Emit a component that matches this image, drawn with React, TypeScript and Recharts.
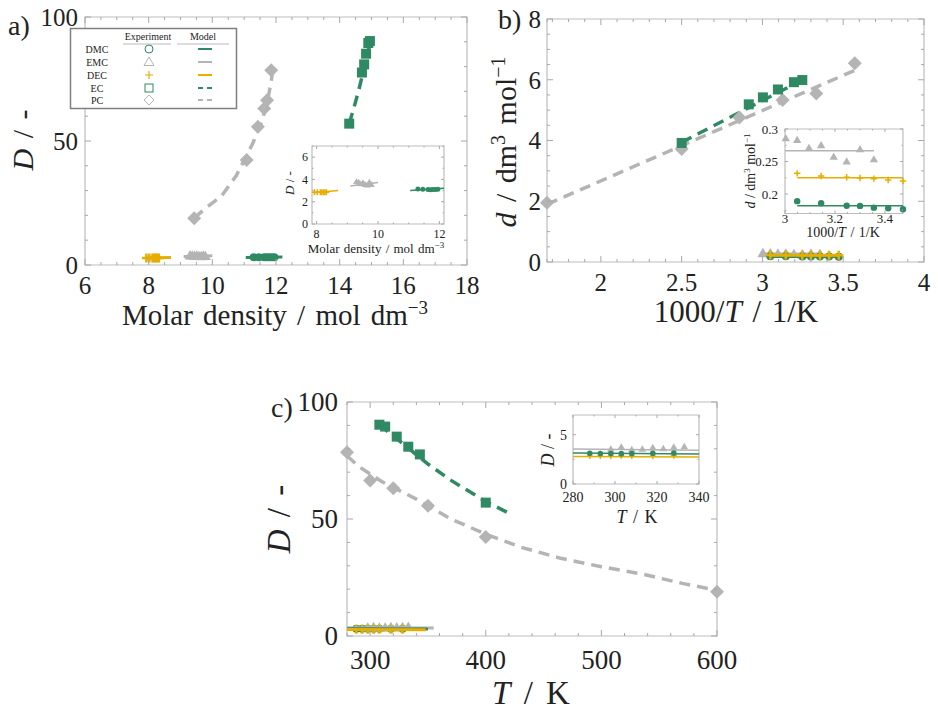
import React from 'react';
import { ScatterChart, Scatter, XAxis, YAxis, ReferenceArea } from 'recharts';

// measured points per solvent: temperature (K), D (-), d (dm3/mol), molar density (mol/dm3)
const T_DMC = [288, 293, 298, 303, 308, 318, 328];
const D_DMC = [3.12, 3.1, 3.1, 3.08, 3.1, 3.12, 3.14];
const d_DMC = [0.1765, 0.178, 0.179, 0.1817, 0.182, 0.1857, 0.189];
const rho_DMC = [11.95, 11.87, 11.79, 11.71, 11.63, 11.46, 11.3];

const T_EMC = [298, 303, 308, 313, 318, 323, 328, 333];
const D_EMC = [3.55, 3.75, 3.5, 3.55, 3.7, 3.6, 3.75, 3.8];
const d_EMC = [0.2533, 0.2688, 0.25, 0.2574, 0.275, 0.271, 0.283, 0.2857];
const rho_EMC = [9.78, 9.72, 9.65, 9.58, 9.51, 9.44, 9.37, 9.3];

const T_DEC = [288, 293, 298, 303, 308, 318, 328];
const D_DEC = [2.85, 2.84, 2.85, 2.86, 2.85, 2.84, 2.86];
const d_DEC = [0.22, 0.2215, 0.2236, 0.2246, 0.2257, 0.2277, 0.2318];
const rho_DEC = [8.32, 8.27, 8.22, 8.17, 8.12, 8.02, 7.93];

const T_EC = [308, 313, 323, 333, 343, 400];
const D_EC = [90.3, 89.5, 85.2, 80.9, 77.6, 57];
const d_EC = [5.99, 5.92, 5.68, 5.42, 5.19, 3.92];
const rho_EC = [14.95, 14.9, 14.83, 14.77, 14.7, 14.3];

const T_PC = [280, 300, 320, 350, 400, 600];
const D_PC = [78.5, 66.4, 63.1, 55.7, 42.3, 18.9];
const d_PC = [6.54, 5.55, 5.33, 4.76, 3.72, 1.95];
const rho_PC = [11.85, 11.72, 11.63, 11.43, 11.08, 9.43];

// model curves, panel a (x = molar density, y = D)
const modA_DMC_x = [11.05, 12.2];
const modA_DMC_y = [3.0, 3.22];
const modA_EMC_x = [9.1, 10.0];
const modA_EMC_y = [3.4, 3.72];
const modA_DEC_x = [7.9, 8.7];
const modA_DEC_y = [2.8, 3.0];
const modA_EC_x = [14.3, 14.45, 14.6, 14.75, 14.9, 14.97];
const modA_EC_y = [57, 63.5, 70.5, 78.5, 86.5, 91];
const modA_PC_x = [9.43, 9.8, 10.3, 10.75, 11.25, 11.5, 11.7, 11.85, 11.9];
const modA_PC_y = [19, 23, 28, 36, 48.5, 56, 64, 74, 79];

// model curves, panel b (x = 1000/T, y = d)
const modB_DMC_x = [3.049, 3.472];
const modB_DMC_y = [0.182, 0.182];
const modB_EMC_x = [3.0, 3.356];
const modB_EMC_y = [0.2667, 0.2667];
const modB_DEC_x = [3.049, 3.472];
const modB_DEC_y = [0.2251, 0.2251];
const modB_EC_x = [2.5, 3.25];
const modB_EC_y = [3.94, 6.0];
const modB_PC_x = [1.667, 3.58];
const modB_PC_y = [1.9, 6.33];

// model curves, panel c (x = T, y = D)
const modC_DMC_x = [280, 350];
const modC_DMC_y = [3.15, 3.02];
const modC_EMC_x = [280, 355];
const modC_EMC_y = [3.55, 3.4];
const modC_DEC_x = [280, 348];
const modC_DEC_y = [2.8, 2.72];
const modC_EC_x = [308, 330, 350, 370, 400, 420];
const modC_EC_y = [90.3, 81.5, 73.5, 66.5, 57.5, 52.5];
const modC_PC_x = [280, 290, 310, 340, 370, 400, 430, 465, 500, 535, 570, 600];
const modC_PC_y = [77, 72.5, 66, 58.5, 50, 43.5, 38, 33.2, 29.6, 26.5, 22.5, 19.5];

// legend rows
const legendNames = ['DMC', 'EMC', 'DEC', 'EC', 'PC'];

const GREEN = '#2f8a64';
const GRAY = '#b4b4b4';
const YELLOW = '#e6ae00';
const FRAME = '#bdbdbd';
const TICK = '#a8a8a8';
const INK = '#222';
const FONT = '"Liberation Serif", "DejaVu Serif", serif';

const xy = (xs: number[], ys: number[]) => xs.map((x, i) => ({ x, y: ys[i] }));
const invT = (ts: number[]) => ts.map((t) => 1000 / t);

const steps = (a: number, b: number, s: number) => {
  const out: number[] = [];
  for (let v = a; v <= b + 1e-9; v += s) out.push(+v.toFixed(6));
  return out;
};
const majorOf = (v: number, list: number[]) => list.find((m) => Math.abs(m - v) < 1e-6);

// marker shapes
const circleMk = (r: number, c: string) => (p: any) => <circle cx={p.cx} cy={p.cy} r={r} fill={c} />;
const squareMk = (s: number, c: string) => (p: any) => (
  <rect x={p.cx - s / 2} y={p.cy - s / 2} width={s} height={s} fill={c} />
);
const diamondMk = (s: number, c: string) => (p: any) => (
  <polygon points={`${p.cx},${p.cy - s} ${p.cx + s},${p.cy} ${p.cx},${p.cy + s} ${p.cx - s},${p.cy}`} fill={c} />
);
const triMk = (s: number, c: string) => (p: any) => (
  <polygon points={`${p.cx},${p.cy - s} ${p.cx + s},${p.cy + s * 0.7} ${p.cx - s},${p.cy + s * 0.7}`} fill={c} />
);
const plusMk = (s: number, c: string, w: number) => (p: any) => (
  <path d={`M${p.cx - s},${p.cy}H${p.cx + s}M${p.cx},${p.cy - s}V${p.cy + s}`} stroke={c} strokeWidth={w} />
);
const noMk = () => <g />;

const marks = (key: string, data: any[], shape: any) => (
  <Scatter key={key} data={data} shape={shape} isAnimationActive={false} />
);
const curve = (key: string, data: any[], color: string, width: number, dash?: string) => (
  <Scatter
    key={key}
    data={data}
    shape={noMk}
    fill={color}
    line={{ stroke: color, strokeWidth: width, strokeDasharray: dash }}
    lineType="joint"
    isAnimationActive={false}
  />
);

type Cfg = {
  left: number; top: number; width: number; height: number;
  box: number[];
  xDomain: number[]; yDomain: number[];
  xTicks: number[]; xMajor: number[];
  yTicks: number[]; yMajor: number[];
  font: number; major: number; minor: number;
  xGap: number; yGap: number; clip?: boolean;
};

const Panel: React.FC<{ cfg: Cfg; children: React.ReactNode }> = ({ cfg, children }) => {
  const [x0, y0, x1, y1] = cfg.box;
  const xTick = (p: any) => {
    const m = majorOf(p.payload.value, cfg.xMajor);
    const len = m !== undefined ? cfg.major : cfg.minor;
    return (
      <g>
        <line x1={p.x} x2={p.x} y1={y1} y2={y1 - len} stroke={TICK} />
        <line x1={p.x} x2={p.x} y1={y0} y2={y0 + len} stroke={TICK} />
        {m !== undefined && (
          <text x={p.x} y={y1 + cfg.xGap} textAnchor="middle" fontSize={cfg.font} fontFamily={FONT} fill={INK}>
            {String(m)}
          </text>
        )}
      </g>
    );
  };
  const yTick = (p: any) => {
    const m = majorOf(p.payload.value, cfg.yMajor);
    const len = m !== undefined ? cfg.major : cfg.minor;
    return (
      <g>
        <line x1={x0} x2={x0 + len} y1={p.y} y2={p.y} stroke={TICK} />
        <line x1={x1} x2={x1 - len} y1={p.y} y2={p.y} stroke={TICK} />
        {m !== undefined && (
          <text x={x0 - cfg.yGap} y={p.y + cfg.font * 0.35} textAnchor="end" fontSize={cfg.font} fontFamily={FONT} fill={INK}>
            {String(m)}
          </text>
        )}
      </g>
    );
  };
  return (
    <div style={{ position: 'absolute', left: cfg.left, top: cfg.top }}>
      <ScatterChart
        width={cfg.width}
        height={cfg.height}
        margin={{ top: y0, right: cfg.width - x1, bottom: 0, left: 0 }}
      >
        <XAxis
          type="number" dataKey="x" domain={cfg.xDomain} ticks={cfg.xTicks} interval={0}
          tick={xTick} tickLine={false} axisLine={false} tickSize={0} tickMargin={0}
          height={cfg.height - y1} allowDataOverflow={!!cfg.clip}
        />
        <YAxis
          type="number" dataKey="y" domain={cfg.yDomain} ticks={cfg.yTicks} interval={0}
          tick={yTick} tickLine={false} axisLine={false} tickSize={0} tickMargin={0}
          width={x0} allowDataOverflow={!!cfg.clip}
        />
        <ReferenceArea
          x1={cfg.xDomain[0]} x2={cfg.xDomain[1]} y1={cfg.yDomain[0]} y2={cfg.yDomain[1]}
          fill="none" stroke={FRAME} strokeWidth={1.2} ifOverflow="visible"
        />
        {children}
      </ScatterChart>
    </div>
  );
};

const cfgA: Cfg = {
  left: 0, top: 0, width: 470, height: 330, box: [85, 17, 467, 265],
  xDomain: [6, 18], yDomain: [0, 100],
  xTicks: steps(6, 18, 0.5), xMajor: [6, 8, 10, 12, 14, 16, 18],
  yTicks: steps(0, 100, 10), yMajor: [0, 50, 100],
  font: 25, major: 6, minor: 3, xGap: 29, yGap: 7,
};
const cfgB: Cfg = {
  left: 470, top: 0, width: 468, height: 330, box: [77, 19, 454, 262],
  xDomain: [1.6666, 4], yDomain: [0, 8],
  xTicks: [1.6666, ...steps(1.7, 4, 0.1)], xMajor: [2, 2.5, 3, 3.5, 4],
  yTicks: steps(0, 8, 0.5), yMajor: [0, 2, 4, 6, 8],
  font: 25, major: 6, minor: 3, xGap: 29, yGap: 6,
};
const cfgC: Cfg = {
  left: 270, top: 385, width: 460, height: 330, box: [77, 17, 447, 251],
  xDomain: [280, 600], yDomain: [0, 100],
  xTicks: steps(280, 600, 20), xMajor: [300, 400, 500, 600],
  yTicks: steps(0, 100, 10), yMajor: [0, 50, 100],
  font: 27, major: 6, minor: 3, xGap: 33, yGap: 9,
};
const cfgAi: Cfg = {
  left: 280, top: 140, width: 170, height: 115, box: [32, 6, 164, 84],
  xDomain: [7.85, 12.15], yDomain: [0, 7],
  xTicks: steps(8, 12, 0.5), xMajor: [8, 10, 12],
  yTicks: steps(0, 7, 1), yMajor: [0, 2, 4, 6],
  font: 12, major: 3, minor: 1.5, xGap: 14, yGap: 4, clip: true,
};
const cfgBi: Cfg = {
  left: 700, top: 120, width: 210, height: 130, box: [85, 9, 203, 93.5],
  xDomain: [3, 3.472], yDomain: [0.17, 0.3],
  xTicks: steps(3, 3.4, 0.05), xMajor: [3, 3.2, 3.4],
  yTicks: steps(0.175, 0.3, 0.025), yMajor: [0.2, 0.25, 0.3],
  font: 13, major: 3, minor: 1.5, xGap: 9, yGap: 7,
};
const cfgCi: Cfg = {
  left: 530, top: 405, width: 180, height: 125, box: [43, 10, 169, 79],
  xDomain: [280, 340], yDomain: [0, 7],
  xTicks: steps(280, 340, 10), xMajor: [280, 300, 320, 340],
  yTicks: steps(0, 7, 2.5), yMajor: [0, 5],
  font: 14, major: 3, minor: 1.5, xGap: 18, yGap: 6, clip: true,
};

const Title: React.FC<any> = ({ children, ...rest }) => (
  <text fontFamily={FONT} fill={INK} {...rest}>{children}</text>
);

const LegendBox: React.FC = () => {
  const rowY = [49, 62, 75, 88, 100];
  const mx = 149;
  const symbols = [
    <circle cx={mx} cy={rowY[0]} r={4} fill="#fff" stroke={GREEN} strokeWidth={1} />,
    <polygon points={`${mx},${rowY[1] - 5} ${mx + 5},${rowY[1] + 3.5} ${mx - 5},${rowY[1] + 3.5}`} fill="#fff" stroke={GRAY} strokeWidth={1} />,
    <path d={`M${mx - 4},${rowY[2]}H${mx + 4}M${mx},${rowY[2] - 4}V${rowY[2] + 4}`} stroke={YELLOW} strokeWidth={1.2} />,
    <rect x={mx - 4} y={rowY[3] - 4} width={8} height={8} fill="#fff" stroke={GREEN} strokeWidth={1} />,
    <polygon points={`${mx},${rowY[4] - 5} ${mx + 5},${rowY[4]} ${mx},${rowY[4] + 5} ${mx - 5},${rowY[4]}`} fill="#fff" stroke={GRAY} strokeWidth={1} />,
  ];
  const lines = [
    { c: GREEN, dash: undefined },
    { c: GRAY, dash: undefined },
    { c: YELLOW, dash: undefined },
    { c: GREEN, dash: '5 4' },
    { c: GRAY, dash: '5 4' },
  ];
  return (
    <g>
      <rect x={70.5} y={28.5} width={166} height={80} fill="#fff" stroke="#7f7f7f" strokeWidth={1.5} />
      <Title x={148} y={39.5} fontSize={10} textAnchor="middle">Experiment</Title>
      <Title x={203} y={39.5} fontSize={10} textAnchor="middle">Model</Title>
      <line x1={123} x2={171} y1={44} y2={44} stroke="#bbb" />
      <line x1={177} x2={229} y1={44} y2={44} stroke="#bbb" />
      {legendNames.map((n, i) => (
        <g key={n}>
          <Title x={97} y={rowY[i] + 3.5} fontSize={10} textAnchor="middle">{n}</Title>
          {symbols[i]}
          <line x1={198} x2={212} y1={rowY[i]} y2={rowY[i]} stroke={lines[i].c} strokeWidth={2} strokeDasharray={lines[i].dash} />
        </g>
      ))}
    </g>
  );
};

const Overlay: React.FC = () => (
  <svg width={938} height={715} style={{ position: 'absolute', left: 0, top: 0, pointerEvents: 'none' }}>
    <Title x={8} y={35} fontSize={28}>a)</Title>
    <Title x={498} y={29} fontSize={28}>b)</Title>
    <Title x={271} y={417} fontSize={28}>c)</Title>

    <Title x={275} y={325} fontSize={29} textAnchor="middle" style={{ wordSpacing: 3 }}>
      Molar density / mol dm<tspan dy={-11} fontSize={19}>−3</tspan>
    </Title>
    <Title transform="translate(33,140) rotate(-90)" fontSize={30} textAnchor="middle" style={{ wordSpacing: 3 }}>
      <tspan fontStyle="italic">D</tspan> / -
    </Title>

    <Title x={736} y={322} fontSize={31} textAnchor="middle" style={{ wordSpacing: 3 }}>
      1000/<tspan fontStyle="italic">T</tspan> / 1/K
    </Title>
    <Title transform="translate(516,142) rotate(-90)" fontSize={30} textAnchor="middle" style={{ wordSpacing: 3 }}>
      <tspan fontStyle="italic">d</tspan> / dm<tspan dy={-11} fontSize={20}>3</tspan>
      <tspan dy={11}> mol</tspan><tspan dy={-11} fontSize={20}>−1</tspan>
    </Title>

    <Title x={531} y={704} fontSize={33} textAnchor="middle" style={{ wordSpacing: 5 }}>
      <tspan fontStyle="italic">T</tspan> / K
    </Title>
    <Title transform="translate(290,519) rotate(-90)" fontSize={33} textAnchor="middle" style={{ wordSpacing: 4 }}>
      <tspan fontStyle="italic">D</tspan> / -
    </Title>

    <Title x={376} y={253} fontSize={13} textAnchor="middle" style={{ wordSpacing: 1 }}>
      Molar density / mol dm<tspan dy={-5} fontSize={9}>−3</tspan>
    </Title>
    <Title transform="translate(294,183) rotate(-90)" fontSize={13} textAnchor="middle">
      <tspan fontStyle="italic">D</tspan> / -
    </Title>

    <Title x={843} y={237} fontSize={14} textAnchor="middle" style={{ wordSpacing: 1 }}>
      1000/<tspan fontStyle="italic">T</tspan> / 1/K
    </Title>
    <Title transform="translate(755,171) rotate(-90)" fontSize={14} textAnchor="middle">
      <tspan fontStyle="italic">d</tspan> / dm<tspan dy={-5} fontSize={9}>3</tspan>
      <tspan dy={5}> mol</tspan><tspan dy={-5} fontSize={9}>−1</tspan>
    </Title>

    <Title x={637} y={523} fontSize={18} textAnchor="middle" style={{ wordSpacing: 2 }}>
      <tspan fontStyle="italic">T</tspan> / K
    </Title>
    <Title transform="translate(554,450) rotate(-90)" fontSize={18} textAnchor="middle">
      <tspan fontStyle="italic">D</tspan> / -
    </Title>

    <LegendBox />
  </svg>
);

export default function App() {
  const big = { circle: circleMk(4, GREEN), tri: triMk(5.5, GRAY), plus: plusMk(4.5, YELLOW, 2.5), sq: squareMk(10, GREEN), dia: diamondMk(7, GRAY) };
  return (
    <div style={{ position: 'absolute', left: 0, top: 0, width: 938, height: 715, background: '#fff', overflow: 'hidden' }}>
      <style>{'.recharts-surface{overflow:visible}.recharts-wrapper{overflow:visible}'}</style>
      <Panel cfg={cfgA}>
        {[
          curve('mPC', xy(modA_PC_x, modA_PC_y), GRAY, 3.5, '11 7'),
          curve('mEC', xy(modA_EC_x, modA_EC_y), GREEN, 3.5, '11 7'),
          curve('mDMC', xy(modA_DMC_x, modA_DMC_y), GREEN, 3),
          curve('mEMC', xy(modA_EMC_x, modA_EMC_y), GRAY, 3),
          curve('mDEC', xy(modA_DEC_x, modA_DEC_y), YELLOW, 3),
          marks('PC', xy(rho_PC, D_PC), big.dia),
          marks('EC', xy(rho_EC, D_EC), big.sq),
          marks('EMC', xy(rho_EMC, D_EMC), big.tri),
          marks('DMC', xy(rho_DMC, D_DMC), big.circle),
          marks('DEC', xy(rho_DEC, D_DEC), big.plus),
        ]}
      </Panel>
      <Panel cfg={cfgB}>
        {[
          curve('mPC', xy(modB_PC_x, modB_PC_y), GRAY, 3.5, '11 7'),
          curve('mEC', xy(modB_EC_x, modB_EC_y), GREEN, 3.5, '11 7'),
          marks('PC', xy(invT(T_PC), d_PC), big.dia),
          marks('EC', xy(invT(T_EC), d_EC), big.sq),
          marks('EMC', xy(invT(T_EMC), d_EMC), big.tri),
          curve('mEMC', xy(modB_EMC_x, modB_EMC_y), GRAY, 3),
          marks('DMC', xy(invT(T_DMC), d_DMC), big.circle),
          curve('mDMC', xy(modB_DMC_x, modB_DMC_y), GREEN, 3),
          marks('DEC', xy(invT(T_DEC), d_DEC), big.plus),
          curve('mDEC', xy(modB_DEC_x, modB_DEC_y), YELLOW, 3),
        ]}
      </Panel>
      <Panel cfg={cfgC}>
        {[
          curve('mPC', xy(modC_PC_x, modC_PC_y), GRAY, 3.5, '11 7'),
          curve('mEC', xy(modC_EC_x, modC_EC_y), GREEN, 3.5, '11 7'),
          marks('PC', xy(T_PC, D_PC), big.dia),
          marks('EC', xy(T_EC, D_EC), big.sq),
          marks('DMC', xy(T_DMC, D_DMC), big.circle),
          marks('EMC', xy(T_EMC, D_EMC), big.tri),
          marks('DEC', xy(T_DEC, D_DEC), big.plus),
          curve('mEMC', xy(modC_EMC_x, modC_EMC_y), GRAY, 3),
          curve('mDMC', xy(modC_DMC_x, modC_DMC_y), GREEN, 3),
          curve('mDEC', xy(modC_DEC_x, modC_DEC_y), YELLOW, 3),
        ]}
      </Panel>
      <Panel cfg={cfgAi}>
        {[
          curve('mDMC', xy(modA_DMC_x, modA_DMC_y), GREEN, 1.5),
          curve('mEMC', xy(modA_EMC_x, modA_EMC_y), GRAY, 1.5),
          curve('mDEC', xy(modA_DEC_x, modA_DEC_y), YELLOW, 1.5),
          marks('EMC', xy(rho_EMC, D_EMC), triMk(3.5, GRAY)),
          marks('DMC', xy(rho_DMC, D_DMC), circleMk(2.5, GREEN)),
          marks('DEC', xy(rho_DEC, D_DEC), plusMk(3, YELLOW, 1.5)),
        ]}
      </Panel>
      <Panel cfg={cfgBi}>
        {[
          curve('mEMC', xy(modB_EMC_x, modB_EMC_y), GRAY, 1.5),
          curve('mDEC', xy(modB_DEC_x, modB_DEC_y), YELLOW, 1.5),
          curve('mDMC', xy(modB_DMC_x, modB_DMC_y), GREEN, 1.5),
          marks('EMC', xy(invT(T_EMC), d_EMC), triMk(4.2, GRAY)),
          marks('DEC', xy(invT(T_DEC), d_DEC), plusMk(3.2, YELLOW, 1.5)),
          marks('DMC', xy(invT(T_DMC), d_DMC), circleMk(3.2, GREEN)),
        ]}
      </Panel>
      <Panel cfg={cfgCi}>
        {[
          curve('mEMC', xy(modC_EMC_x, modC_EMC_y), GRAY, 1.5),
          curve('mDMC', xy(modC_DMC_x, modC_DMC_y), GREEN, 1.5),
          curve('mDEC', xy(modC_DEC_x, modC_DEC_y), YELLOW, 1.5),
          marks('EMC', xy(T_EMC, D_EMC), triMk(3.8, GRAY)),
          marks('DEC', xy(T_DEC, D_DEC), plusMk(3, YELLOW, 1.5)),
          marks('DMC', xy(T_DMC, D_DMC), circleMk(2.8, GREEN)),
        ]}
      </Panel>
      <Overlay />
    </div>
  );
}
